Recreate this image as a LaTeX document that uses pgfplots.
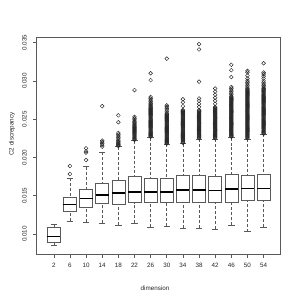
\documentclass[border=0pt]{standalone}
\usepackage{pgfplots}
\pgfplotsset{compat=1.18}
\usepgfplotslibrary{statistics}
\usepackage{fontspec}
\setmainfont{Liberation Sans}
\definecolor{rline}{gray}{0.35}
% values are C2 discrepancy x 1000
\pgfplotsset{
  rbox/.style={
    draw=rline, line width=0.55bp, mark=o,
    mark size=1.9bp, mark options={draw=black!85, line width=0.45bp, fill=none},
    boxplot/draw direction=y,
    boxplot/box extend=0.8, boxplot/whisker extend=0.4,
    boxplot/every median/.style={draw=black, line width=1.6bp},
    boxplot/draw/lower whisker/.code={%
      \draw[rline, line width=0.55bp, densely dashed]
        (boxplot box cs:\pgfplotsboxplotvalue{lower whisker},0.5) --
        (boxplot box cs:\pgfplotsboxplotvalue{lower quartile},0.5);
      \draw[rline, line width=0.55bp]
        (boxplot whisker cs:\pgfplotsboxplotvalue{lower whisker},0) --
        (boxplot whisker cs:\pgfplotsboxplotvalue{lower whisker},1);
    },
    boxplot/draw/upper whisker/.code={%
      \draw[rline, line width=0.55bp, densely dashed]
        (boxplot box cs:\pgfplotsboxplotvalue{upper whisker},0.5) --
        (boxplot box cs:\pgfplotsboxplotvalue{upper quartile},0.5);
      \draw[rline, line width=0.55bp]
        (boxplot whisker cs:\pgfplotsboxplotvalue{upper whisker},0) --
        (boxplot whisker cs:\pgfplotsboxplotvalue{upper whisker},1);
    },
  }
}
\begin{document}
\begin{tikzpicture}
\path[use as bounding box] (0,0) rectangle (300bp,300bp);
\begin{axis}[
  at={(36.7bp,46bp)}, anchor=south west,
  scale only axis, width=244bp, height=217bp,
  xmin=-0.06, xmax=15.06, ymin=7.39, ymax=35.73,
  axis line style={draw=rline, line width=0.6bp},
  xtick={1,...,14},
  xticklabels={2,6,10,14,18,22,26,30,34,38,42,46,50,54},
  ytick={10,15,20,25,30,35},
  yticklabels={0.010,0.015,0.020,0.025,0.030,0.035},
  tick pos=left, tick align=outside, major tick length=3.8bp,
  tick style={draw=rline, line width=0.6bp},
  tick label style={font=\fontsize{6.3}{7}\selectfont, text=black!85},
  yticklabel style={rotate=90, anchor=south, inner sep=1bp, inner ysep=6bp},
  xticklabel style={anchor=north, inner sep=1bp, inner ysep=5.5bp},
  xlabel={dimension}, ylabel={C2 discrepancy},
  every axis x label/.style={at={(axis description cs:0.485,-0.157)}, anchor=center, font=\fontsize{6.3}{7}\selectfont, text=black!85},
  every axis y label/.style={at={(axis description cs:-0.101,0.553)}, rotate=90, anchor=center, font=\fontsize{6.3}{7}\selectfont, text=black!85},
]
% dim 2
\addplot[rbox, boxplot prepared={draw position=1, lower whisker=8.52, lower quartile=8.86, median=9.65, upper quartile=10.88, upper whisker=11.26}] coordinates {};
% dim 6
\addplot[rbox, boxplot prepared={draw position=2, lower whisker=11.66, lower quartile=12.91, median=13.88, upper quartile=14.79, upper whisker=17.27}]
  table[row sep=\\, y index=0] {17.84\\18.88\\};
% dim 10
\addplot[rbox, boxplot prepared={draw position=3, lower whisker=11.57, lower quartile=13.49, median=14.66, upper quartile=15.84, upper whisker=18.79}]
  table[row sep=\\, y index=0] {19.66\\20.62\\20.80\\21.19\\};
% dim 14
\addplot[rbox, boxplot prepared={draw position=4, lower whisker=11.4, lower quartile=14.01, median=15.09, upper quartile=16.62, upper whisker=20.7}]
  table[row sep=\\, y index=0] {21.4\\21.6\\21.8\\22.0\\22.2\\26.7\\};
% dim 18
\addplot[rbox, boxplot prepared={draw position=5, lower whisker=11.18, lower quartile=13.92, median=15.39, upper quartile=16.96, upper whisker=21.4}]
  table[row sep=\\, y index=0] {21.5\\21.6\\21.7\\21.8\\21.9\\22.0\\22.1\\22.2\\22.4\\22.6\\22.8\\23.0\\23.2\\24.6\\25.5\\};
% dim 22
\addplot[rbox, boxplot prepared={draw position=6, lower whisker=11.4, lower quartile=14.09, median=15.52, upper quartile=17.48, upper whisker=22.2}]
  table[row sep=\\, y index=0] {22.3\\22.4\\22.5\\22.6\\22.7\\22.8\\22.9\\23.0\\23.1\\23.2\\23.3\\23.4\\23.5\\23.6\\23.7\\23.8\\23.9\\24.0\\24.1\\24.2\\24.3\\24.4\\24.5\\24.6\\24.7\\24.9\\25.1\\25.3\\28.8\\};
% dim 26
\addplot[rbox, boxplot prepared={draw position=7, lower whisker=10.87, lower quartile=14.18, median=15.52, upper quartile=17.22, upper whisker=22.6}]
  table[row sep=\\, y index=0] {22.7\\22.8\\22.9\\23.0\\23.1\\23.2\\23.3\\23.4\\23.5\\23.6\\23.7\\23.8\\23.9\\24.0\\24.1\\24.2\\24.3\\24.4\\24.5\\24.6\\24.7\\24.8\\24.9\\25.0\\25.1\\25.2\\25.3\\25.4\\25.5\\25.6\\25.7\\25.8\\25.9\\26.0\\26.1\\26.2\\26.3\\26.4\\26.5\\26.6\\26.7\\26.8\\26.9\\27.0\\27.1\\27.3\\27.5\\27.7\\27.9\\30.1\\31.0\\};
% dim 30
\addplot[rbox, boxplot prepared={draw position=8, lower whisker=11.04, lower quartile=14.18, median=15.52, upper quartile=17.22, upper whisker=21.7}]
  table[row sep=\\, y index=0] {21.8\\21.9\\22.0\\22.1\\22.2\\22.3\\22.4\\22.5\\22.6\\22.7\\22.8\\22.9\\23.0\\23.1\\23.2\\23.3\\23.4\\23.5\\23.6\\23.7\\23.8\\23.9\\24.0\\24.1\\24.2\\24.3\\24.4\\24.5\\24.6\\24.7\\24.8\\24.9\\25.0\\25.1\\25.2\\25.3\\25.4\\25.5\\25.6\\25.7\\25.8\\26.0\\26.2\\26.4\\26.6\\26.8\\32.9\\};
% dim 34
\addplot[rbox, boxplot prepared={draw position=9, lower whisker=10.74, lower quartile=14.18, median=15.75, upper quartile=17.66, upper whisker=21.8}]
  table[row sep=\\, y index=0] {21.9\\22.0\\22.1\\22.2\\22.3\\22.4\\22.5\\22.6\\22.7\\22.8\\22.9\\23.0\\23.1\\23.2\\23.3\\23.4\\23.5\\23.6\\23.7\\23.8\\23.9\\24.0\\24.1\\24.2\\24.3\\24.4\\24.5\\24.6\\24.7\\24.8\\24.9\\25.0\\25.1\\25.2\\25.3\\25.4\\25.5\\25.6\\25.7\\25.8\\25.9\\26.0\\26.1\\26.2\\26.7\\27.2\\27.6\\};
% dim 38
\addplot[rbox, boxplot prepared={draw position=10, lower whisker=10.74, lower quartile=14.18, median=15.75, upper quartile=17.66, upper whisker=22.4}]
  table[row sep=\\, y index=0] {22.5\\22.6\\22.7\\22.8\\22.9\\23.0\\23.1\\23.2\\23.3\\23.4\\23.5\\23.6\\23.7\\23.8\\23.9\\24.0\\24.1\\24.2\\24.3\\24.4\\24.5\\24.6\\24.7\\24.8\\24.9\\25.0\\25.1\\25.2\\25.3\\25.4\\25.5\\25.6\\25.7\\25.8\\25.9\\26.0\\26.1\\26.2\\26.6\\27.0\\27.4\\27.7\\29.9\\34.1\\34.8\\};
% dim 42
\addplot[rbox, boxplot prepared={draw position=11, lower whisker=10.61, lower quartile=14.18, median=15.66, upper quartile=17.57, upper whisker=22.4}]
  table[row sep=\\, y index=0] {22.5\\22.6\\22.7\\22.8\\22.9\\23.0\\23.1\\23.2\\23.3\\23.4\\23.5\\23.6\\23.7\\23.8\\23.9\\24.0\\24.1\\24.2\\24.3\\24.4\\24.5\\24.6\\24.7\\24.8\\24.9\\25.0\\25.1\\25.2\\25.3\\25.4\\25.5\\25.6\\25.7\\25.8\\25.9\\26.0\\26.1\\26.2\\26.3\\26.4\\26.5\\26.6\\27.0\\27.4\\27.8\\28.2\\28.6\\29.0\\};
% dim 46
\addplot[rbox, boxplot prepared={draw position=12, lower whisker=11.13, lower quartile=14.18, median=15.84, upper quartile=17.80, upper whisker=22.6}]
  table[row sep=\\, y index=0] {22.7\\22.8\\22.9\\23.0\\23.1\\23.2\\23.3\\23.4\\23.5\\23.6\\23.7\\23.8\\23.9\\24.0\\24.1\\24.2\\24.3\\24.4\\24.5\\24.6\\24.7\\24.8\\24.9\\25.0\\25.1\\25.2\\25.3\\25.4\\25.5\\25.6\\25.7\\25.8\\25.9\\26.0\\26.1\\26.2\\26.3\\26.4\\26.5\\26.6\\26.7\\26.8\\26.9\\27.0\\27.1\\27.2\\27.3\\27.4\\27.5\\27.6\\27.7\\27.8\\27.9\\28.0\\28.2\\28.4\\28.6\\28.8\\29.0\\29.2\\30.5\\31.4\\32.1\\};
% dim 50
\addplot[rbox, boxplot prepared={draw position=13, lower whisker=10.30, lower quartile=14.35, median=15.92, upper quartile=17.66, upper whisker=22.4}]
  table[row sep=\\, y index=0] {22.5\\22.6\\22.7\\22.8\\22.9\\23.0\\23.1\\23.2\\23.3\\23.4\\23.5\\23.6\\23.7\\23.8\\23.9\\24.0\\24.1\\24.2\\24.3\\24.4\\24.5\\24.6\\24.7\\24.8\\24.9\\25.0\\25.1\\25.2\\25.3\\25.4\\25.5\\25.6\\25.7\\25.8\\25.9\\26.0\\26.1\\26.2\\26.3\\26.4\\26.5\\26.6\\26.7\\26.8\\26.9\\27.0\\27.1\\27.2\\27.3\\27.4\\27.5\\27.6\\27.7\\27.8\\27.9\\28.0\\28.1\\28.2\\28.3\\28.4\\28.5\\28.6\\28.7\\28.8\\28.9\\29.0\\29.2\\29.4\\29.6\\29.8\\30.0\\30.3\\30.7\\31.1\\31.3\\};
% dim 54
\addplot[rbox, boxplot prepared={draw position=14, lower whisker=10.87, lower quartile=14.35, median=15.92, upper quartile=17.84, upper whisker=23.0}]
  table[row sep=\\, y index=0] {23.1\\23.2\\23.3\\23.4\\23.5\\23.6\\23.7\\23.8\\23.9\\24.0\\24.1\\24.2\\24.3\\24.4\\24.5\\24.6\\24.7\\24.8\\24.9\\25.0\\25.1\\25.2\\25.3\\25.4\\25.5\\25.6\\25.7\\25.8\\25.9\\26.0\\26.1\\26.2\\26.3\\26.4\\26.5\\26.6\\26.7\\26.8\\26.9\\27.0\\27.1\\27.2\\27.3\\27.4\\27.5\\27.6\\27.7\\27.8\\27.9\\28.0\\28.1\\28.2\\28.3\\28.4\\28.5\\28.6\\28.7\\28.8\\28.9\\29.0\\29.2\\29.4\\29.6\\29.8\\30.0\\30.3\\30.6\\30.9\\31.1\\32.3\\};
\end{axis}
\end{tikzpicture}
\end{document}
